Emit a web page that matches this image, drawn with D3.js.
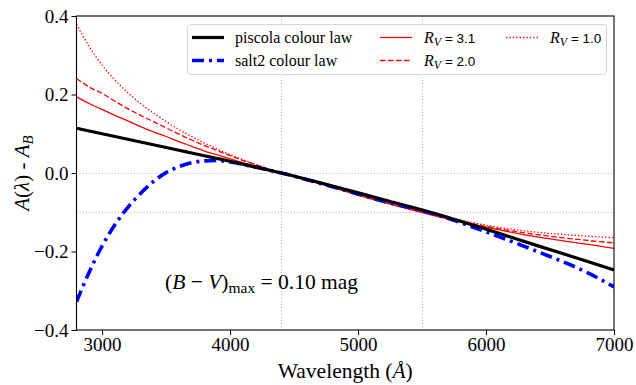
<!DOCTYPE html>
<html>
<head>
<meta charset="utf-8">
<script src="https://cdn.jsdelivr.net/npm/d3@7"></script>
<style>
  body { margin: 0; background: #fff; }
  svg { display: block; }
</style>
</head>
<body>
<div id="chart"></div>
<script>
'use strict';

const serif = '"Liberation Serif"';

// Wavelength grid (Angstrom) shared by every curve.
const wavelength = [2800, 2900, 3000, 3100, 3200, 3300, 3400, 3500, 3600, 3700, 3800, 3900, 4000, 4200, 4400, 4800, 5200, 5600, 6000, 6400, 6800, 7000];

// A(lambda) - A_B.
const piscola = [0.114, 0.107, 0.100, 0.093, 0.086, 0.079, 0.072, 0.065, 0.058, 0.051, 0.044, 0.037, 0.030, 0.015, 0.0, -0.033, -0.068, -0.103, -0.143, -0.185, -0.226, -0.247];
const salt2 = [-0.328, -0.252, -0.186, -0.132, -0.088, -0.052, -0.022, 0.001, 0.016, 0.026, 0.031, 0.032, 0.028, 0.015, 0.0, -0.035, -0.072, -0.105, -0.150, -0.200, -0.255, -0.290];
const rv31 = [0.194, 0.177, 0.162, 0.147, 0.133, 0.118, 0.105, 0.093, 0.080, 0.068, 0.056, 0.046, 0.036, 0.017, 0.0, -0.037, -0.075, -0.109, -0.138, -0.163, -0.182, -0.192];
const rv20 = [0.241, 0.219, 0.203, 0.183, 0.164, 0.147, 0.131, 0.115, 0.099, 0.084, 0.070, 0.057, 0.044, 0.021, 0.0, -0.036, -0.073, -0.107, -0.136, -0.157, -0.172, -0.178];
const rv10 = [0.379, 0.322, 0.275, 0.237, 0.205, 0.177, 0.153, 0.131, 0.111, 0.093, 0.076, 0.061, 0.047, 0.022, 0.0, -0.035, -0.071, -0.104, -0.133, -0.151, -0.161, -0.165];

const xTicks = [3000, 4000, 5000, 6000, 7000];
const yTicks = [-0.4, -0.2, 0.0, 0.2, 0.4];
const refWavelengths = [4400, 5500];
const refLevels = [0.0, -0.1];

const width = 636;
const height = 385;
const box = { left: 76.5, right: 614, top: 16, bottom: 330 };

const x = d3.scaleLinear().domain([2800, 7000]).range([box.left, box.right]);
const y = d3.scaleLinear().domain([-0.4, 0.4]).range([box.bottom, box.top]);

const series = [
  { values: rv10, color: 'red', width: 1.3, dash: '1.4,2' },
  { values: rv20, color: 'red', width: 1.3, dash: '5.5,2.5' },
  { values: rv31, color: 'red', width: 1.3, dash: null },
  { values: salt2, color: 'blue', width: 3.6, dash: '12,5,3,5' },
  { values: piscola, color: 'black', width: 3.2, dash: null }
];

const $svg = d3.select('#chart').append('svg')
  .attr('width', width)
  .attr('height', height);

// Dotted reference lines.
const $ref = $svg.append('g')
  .attr('stroke', '#b4b4b4')
  .attr('stroke-width', 1)
  .attr('stroke-dasharray', '1,2.2');
$ref.selectAll('.vref').data(refWavelengths).enter().append('line')
  .attr('x1', d => Math.round(x(d)) + 0.5).attr('x2', d => Math.round(x(d)) + 0.5)
  .attr('y1', box.top).attr('y2', box.bottom);
$ref.selectAll('.href').data(refLevels).enter().append('line')
  .attr('y1', d => Math.round(y(d)) + 0.5).attr('y2', d => Math.round(y(d)) + 0.5)
  .attr('x1', box.left).attr('x2', box.right);

// Curves.
const $plot = $svg.append('g');
$plot.append('clipPath').attr('id', 'clip')
  .append('rect')
  .attr('x', box.left).attr('y', box.top)
  .attr('width', box.right - box.left).attr('height', box.bottom - box.top);

const line = d3.line()
  .x((d, i) => x(wavelength[i]))
  .y(d => y(d))
  .curve(d3.curveMonotoneX);

$plot.selectAll('.curve').data(series).enter().append('path')
  .attr('class', 'curve')
  .attr('clip-path', 'url(#clip)')
  .attr('fill', 'none')
  .attr('stroke', d => d.color)
  .attr('stroke-width', d => d.width)
  .attr('stroke-dasharray', d => d.dash)
  .attr('d', d => line(d.values));

// Axes.
const fmtY = v => (v < 0 ? '\u2212' : '') + Math.abs(v).toFixed(1);

const $xAxis = $svg.append('g')
  .attr('transform', 'translate(0,' + box.bottom + ')')
  .call(d3.axisBottom(x).tickValues(xTicks).tickFormat(d3.format('d')).tickSize(5).tickPadding(3).tickSizeOuter(0));
const $yAxis = $svg.append('g')
  .attr('transform', 'translate(' + box.left + ',0)')
  .call(d3.axisLeft(y).tickValues(yTicks).tickFormat(fmtY).tickSize(5).tickPadding(3).tickSizeOuter(0));

[$xAxis, $yAxis].forEach($a => {
  $a.attr('font-family', null).attr('font-size', null);
  $a.select('.domain').remove();
  $a.selectAll('text')
    .style('font-family', serif)
    .style('font-size', '19px')
    .attr('fill', '#000');
  $a.selectAll('line').attr('stroke', '#000');
});

// Frame.
$svg.append('rect')
  .attr('x', box.left).attr('y', box.top)
  .attr('width', box.right - box.left).attr('height', box.bottom - box.top)
  .attr('fill', 'none')
  .attr('stroke', '#000')
  .attr('stroke-width', 1.1);

// Small helper for text made of plain and italic (math) pieces.
const addRuns = (t, runs) => {
  runs.forEach(([txt, opt = {}]) => {
    const s = t.append('tspan').text(txt).style('font-family', opt.font || serif);
    opt.italic && s.style('font-style', 'italic');
    opt.size && s.style('font-size', opt.size + 'px');
    opt.dy && s.attr('dy', opt.dy);
  });
};

// Axis labels.
$svg.append('text')
  .attr('x', (box.left + box.right) / 2)
  .attr('y', 378)
  .attr('text-anchor', 'middle')
  .style('font-size', '21.5px')
  .call(addRuns, [['Wavelength ('], ['\u00c5', { italic: true }], [')']]);

$svg.append('text')
  .attr('transform', 'translate(29,' + (box.top + box.bottom) / 2 + ') rotate(-90)')
  .attr('text-anchor', 'middle')
  .style('font-size', '21px')
  .call(addRuns, [['A', { italic: true }], ['('], ['\u03bb', { italic: true }], [') - '],
    ['A', { italic: true }], ['B', { italic: true, size: 15, dy: 4 }]]);

// Annotation.
$svg.append('text')
  .attr('x', 165)
  .attr('y', 289)
  .style('font-size', '21.5px')
  .call(addRuns, [['('], ['B', { italic: true }], [' \u2212 '], ['V', { italic: true }], [')'],
    ['max', { size: 15.5, dy: 4 }], [' = 0.10 mag', { dy: -4 }]]);

// Legend.
const legendItems = [
  { s: series[4], label: 'piscola colour law', col: 0, row: 0 },
  { s: series[3], label: 'salt2 colour law', col: 0, row: 1 },
  { s: series[2], rv: '3.1', col: 1, row: 0 },
  { s: series[1], rv: '2.0', col: 1, row: 1 },
  { s: series[0], rv: '1.0', col: 2, row: 0 }
];
const colX = [192, 380, 506];
const rowY = [37.5, 60.5];

const $legend = $svg.append('g');
$legend.append('rect')
  .attr('x', 187.5).attr('y', 24.5)
  .attr('width', 419).attr('height', 50)
  .attr('rx', 3)
  .attr('fill', '#fff')
  .attr('fill-opacity', 0.8)
  .attr('stroke', '#d6d6d6');

const $items = $legend.selectAll('.item').data(legendItems).enter().append('g')
  .attr('transform', d => 'translate(' + colX[d.col] + ',' + rowY[d.row] + ')');
$items.append('line')
  .attr('x1', 0).attr('x2', 32)
  .attr('stroke', d => d.s.color)
  .attr('stroke-width', d => d.s.width)
  .attr('stroke-dasharray', d => d.s.dash);
$items.append('text')
  .attr('x', d => d.rv ? 44 : 43)
  .attr('y', 5)
  .style('font-size', '16px')
  .each(function(d) {
    const t = d3.select(this);
    if(d.rv) {
      addRuns(t, [['R', { italic: true }], ['V', { italic: true, size: 12, dy: 3 }],
        [' = ' + d.rv, { font: '"Liberation Sans"', size: 13.5, dy: -3 }]]);
    } else {
      addRuns(t, [[d.label]]);
    }
  });
</script>
</body>
</html>
